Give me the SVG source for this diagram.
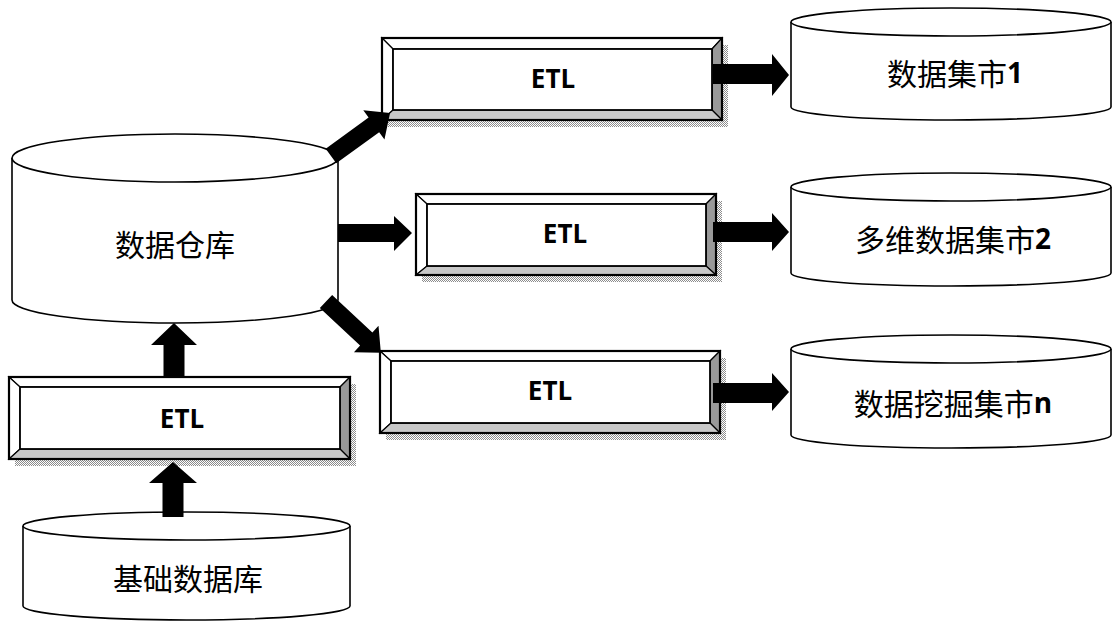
<svg xmlns="http://www.w3.org/2000/svg" width="1112" height="621" viewBox="0 0 1112 621">
<defs>
<pattern id="stip" width="2" height="2" patternUnits="userSpaceOnUse">
<rect width="2" height="2" fill="#ffffff"/>
<rect width="1" height="1" fill="#8c8c8c"/>
<rect x="1" y="1" width="1" height="1" fill="#8c8c8c"/>
</pattern>
<style>
.cyl{fill:#fff;stroke:#000;stroke-width:1.6}
.face{stroke:#000;stroke-width:1.2;stroke-linejoin:miter}
.outer{fill:none;stroke:#000;stroke-width:2.2}
.inner{fill:#fff;stroke:#000;stroke-width:1.8}
.shadow{fill:url(#stip)}
.cn{font-family:"Noto Sans CJK SC","Noto Sans",sans-serif;font-size:30px;fill:#000;text-anchor:middle;dominant-baseline:central}
.lat{font-family:"Open Sans","Liberation Sans",sans-serif;font-weight:700;font-size:28px}
.etl{font-family:"Open Sans","Liberation Sans",sans-serif;font-weight:700;font-size:26px;fill:#000;text-anchor:middle;dominant-baseline:central}
.arr{fill:#000}
</style>
</defs>
<rect width="1112" height="621" fill="#fff"/>

<g id="dw">
<path class="cyl" d="M12,158 L12,300 A163,23 0 0 0 338,300 L338,158"/>
<ellipse class="cyl" cx="175" cy="158" rx="163" ry="24"/>
<text class="cn" x="175" y="243">数据仓库</text>
</g>

<g id="basedb">
<path class="cyl" d="M23,526 L23,606 A163.5,14 0 0 0 350,606 L350,526"/>
<ellipse class="cyl" cx="186.5" cy="526" rx="163.5" ry="14"/>
<text class="cn" x="188" y="577">基础数据库</text>
</g>

<g id="mart1">
<path class="cyl" d="M791,22 L791,107 A160,13 0 0 0 1111,107 L1111,22"/>
<ellipse class="cyl" cx="951" cy="22" rx="160" ry="14"/>
<text class="cn" x="955" y="72">数据集市<tspan class="lat">1</tspan></text>
</g>

<g id="mart2">
<path class="cyl" d="M791,187 L791,273 A160,13 0 0 0 1111,273 L1111,187"/>
<ellipse class="cyl" cx="951" cy="187" rx="160" ry="14"/>
<text class="cn" x="953" y="238">多维数据集市<tspan class="lat">2</tspan></text>
</g>

<g id="mart3">
<path class="cyl" d="M791,349 L791,435 A160,13 0 0 0 1111,435 L1111,349"/>
<ellipse class="cyl" cx="951" cy="349" rx="160" ry="14"/>
<text class="cn" x="953" y="402">数据挖掘集市<tspan class="lat">n</tspan></text>
</g>

<g id="etl1">
<rect class="shadow" x="388" y="45" width="340" height="82"/>
<polygon class="face" fill="#fff" points="382,38 722,38 712,49 393,49"/>
<polygon class="face" fill="#fff" points="382,38 393,49 393,110 382,120"/>
<polygon class="face" fill="#999" points="722,38 722,120 712,110 712,49"/>
<polygon class="face" fill="#c8c8c8" points="382,120 393,110 712,110 722,120"/>
<rect class="inner" x="393" y="49" width="319" height="61"/>
<rect class="outer" x="382" y="38" width="340" height="82"/>
<text class="etl" x="553" y="78">ETL</text>
</g>

<g id="etl2">
<rect class="shadow" x="422" y="201" width="300" height="81"/>
<polygon class="face" fill="#fff" points="416,194 716,194 706,204 427,204"/>
<polygon class="face" fill="#fff" points="416,194 427,204 427,266 416,275"/>
<polygon class="face" fill="#999" points="716,194 716,275 706,266 706,204"/>
<polygon class="face" fill="#c8c8c8" points="416,275 427,266 706,266 716,275"/>
<rect class="inner" x="427" y="204" width="279" height="62"/>
<rect class="outer" x="416" y="194" width="300" height="81"/>
<text class="etl" x="565" y="233">ETL</text>
</g>

<g id="etl3">
<rect class="shadow" x="386" y="358" width="340" height="82"/>
<polygon class="face" fill="#fff" points="380,351 720,351 710,361 391,361"/>
<polygon class="face" fill="#fff" points="380,351 391,361 391,423 380,433"/>
<polygon class="face" fill="#999" points="720,351 720,433 710,423 710,361"/>
<polygon class="face" fill="#c8c8c8" points="380,433 391,423 710,423 720,433"/>
<rect class="inner" x="391" y="361" width="319" height="62"/>
<rect class="outer" x="380" y="351" width="340" height="82"/>
<text class="etl" x="550" y="390">ETL</text>
</g>

<g id="etl4">
<rect class="shadow" x="15" y="384" width="341" height="82"/>
<polygon class="face" fill="#fff" points="9,377 350,377 340,387 20,387"/>
<polygon class="face" fill="#fff" points="9,377 20,387 20,449 9,459"/>
<polygon class="face" fill="#999" points="350,377 350,459 340,449 340,387"/>
<polygon class="face" fill="#c8c8c8" points="9,459 20,449 340,449 350,459"/>
<rect class="inner" x="20" y="387" width="320" height="62"/>
<rect class="outer" x="9" y="377" width="341" height="82"/>
<text class="etl" x="182" y="418">ETL</text>
</g>

<g id="connectors">
<polygon class="arr" transform="translate(331,156) rotate(-36)" points="0,-9 53,-9 53,-18 73,0 53,18 53,9 0,9"/>
<polygon class="arr" points="338,224 394,224 394,216 412,233 394,251 394,242 338,242"/>
<polygon class="arr" transform="translate(326,301.5) rotate(43)" points="0,-9 55,-9 55,-18 75,0 55,18 55,9 0,9"/>
<polygon class="arr" points="713,64 772,64 772,54 789,75 772,96 772,84 713,84"/>
<polygon class="arr" points="713,222 772,222 772,213 789,232 772,251 772,242 713,242"/>
<polygon class="arr" points="713,383 772,383 772,373 789,392 772,411 772,403 713,403"/>
<polygon class="arr" points="163.5,377 163.5,345 151,345 174,323 197,345 184.5,345 184.5,377"/>
<polygon class="arr" points="162.5,517 162.5,483 149,483 173,462 197,483 183.5,483 183.5,517"/>
</g>
</svg>
